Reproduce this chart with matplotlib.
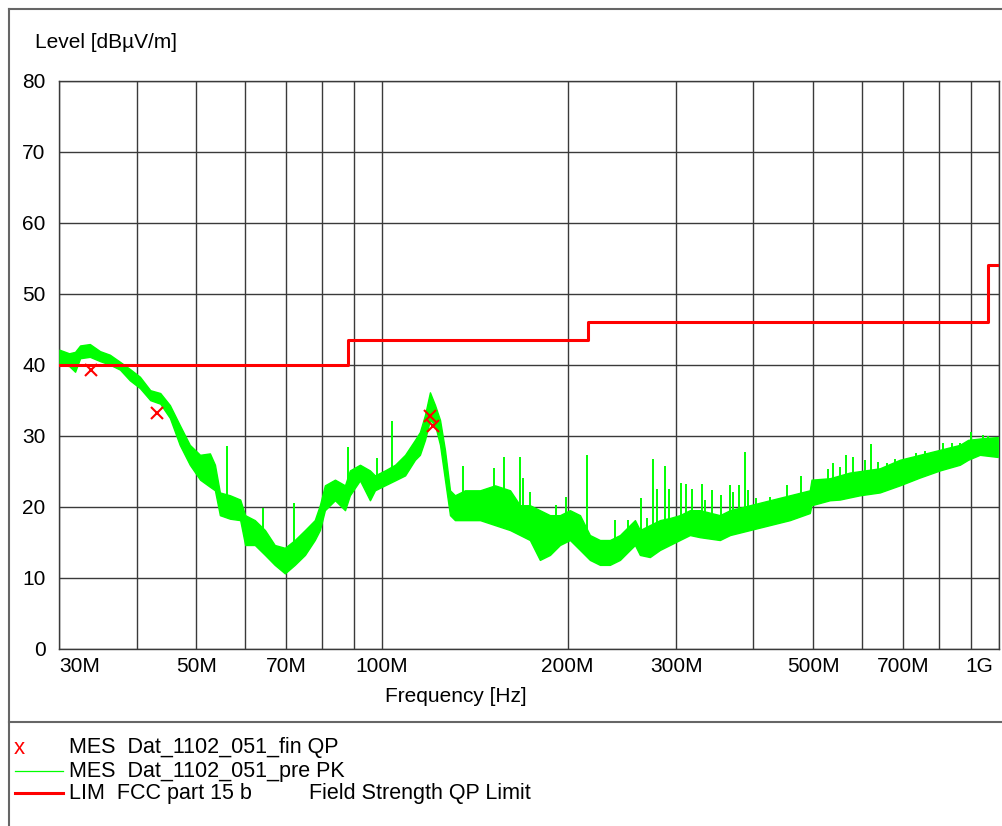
import numpy as np
import matplotlib
matplotlib.use("Agg")
import matplotlib.pyplot as plt
from matplotlib.lines import Line2D
from matplotlib.transforms import ScaledTranslation

plt.rcParams['font.family'] = ['Liberation Sans', 'DejaVu Sans']

# limit line (FCC part 15 b, QP), MHz / dBuV/m
lim_freq = [30.0, 88.0, 88.0, 216.0, 216.0, 960.0, 960.0, 1000.0]
lim_level = [40.0, 40.0, 43.5, 43.5, 46.0, 46.0, 54.0, 54.0]

# final QP measurements
qp_freq = [33.75, 43.1, 119.7, 121.2]
qp_level = [39.2, 33.2, 32.7, 31.3]

# pre-scan peak trace, read as lower / upper edge of the noise band
pk_freq = [30.0, 31.1, 31.8, 32.4, 33.6, 34.9, 36.2, 37.6, 39.0, 40.5, 42.1, 43.7,
           45.3, 47.0, 48.8, 50.7, 52.6, 53.6, 54.6, 56.7, 58.9, 60.0, 62.2, 64.6,
           67.0, 69.6, 72.2, 75.0, 77.8, 79.3, 80.8, 83.9, 87.1, 88.7, 92.1, 95.6,
           97.4, 101.1, 105.0, 109.0, 113.1, 115.2, 117.4, 119.6, 121.9, 124.2, 126.5,
           128.9, 131.3, 136.3, 144.2, 152.5, 161.3, 167.4, 173.7, 180.3, 187.2, 194.3,
           201.7, 209.4, 217.3, 225.6, 234.1, 243.1, 252.3, 257.1, 261.9, 271.8, 282.2,
           292.9, 304.0, 315.6, 327.6, 353.0, 366.6, 394.9, 425.4, 458.4, 493.8, 497.0,
           532.2, 552.5, 573.3, 595.3, 641.4, 691.1, 744.7, 802.4, 864.6, 891.6, 931.6,
           996.0]
pk_lo = [40.0, 39.8, 39.0, 40.9, 41.1, 40.5, 40.0, 39.3, 37.8, 36.7, 35.0, 34.5,
         32.5, 28.7, 25.9, 23.8, 22.8, 22.3, 18.8, 18.3, 18.1, 14.6, 14.6, 13.2,
         11.8, 10.6, 11.8, 13.2, 15.3, 16.7, 19.5, 20.9, 19.5, 21.6, 23.7, 20.9,
         22.3, 23.0, 23.7, 24.4, 26.6, 27.3, 29.4, 32.2, 31.5, 28.7, 23.8,
         18.8, 18.1, 18.1, 18.1, 17.4, 16.7, 16.0, 15.3, 12.5, 13.2, 14.6,
         15.3, 13.9, 12.5, 11.8, 11.8, 12.5, 13.9, 14.6, 13.2, 12.9, 13.9,
         14.6, 15.3, 16.0, 15.7, 15.3, 16.0, 16.7, 17.4, 18.1, 19.1, 20.2,
         20.9, 21.0, 21.3, 21.6, 22.0, 23.0, 24.1, 25.1, 25.9, 26.6, 27.3,
         27.0]
pk_hi = [42.1, 41.6, 41.8, 42.7, 42.9, 41.9, 41.4, 40.4, 39.4, 38.3, 36.4, 36.0,
         34.3, 31.5, 28.7, 27.3, 27.5, 25.9, 22.0, 21.6, 21.0, 18.8, 18.1, 16.7,
         14.6, 14.2, 15.3, 16.7, 18.1, 20.2, 23.0, 23.8, 23.0, 25.1, 25.9, 25.1,
         24.4, 25.1, 25.9, 27.3, 29.4, 30.5, 32.9, 36.1, 34.3, 32.2, 28.0,
         22.3, 21.6, 22.3, 22.3, 23.0, 22.3, 20.2, 20.2, 19.5, 18.8, 18.8,
         19.5, 18.8, 16.0, 15.3, 15.3, 16.0, 17.4, 18.1, 16.7, 17.4, 18.1,
         18.4, 18.8, 19.5, 19.5, 18.8, 19.5, 20.2, 20.9, 21.6, 22.3, 23.8,
         24.0, 24.4, 24.8, 25.0, 25.4, 26.6, 27.3, 28.0, 28.7, 29.4, 29.6,
         29.8]

# single spikes sticking out of the band
spike_freq = [56.0, 64.1, 72.1, 88.0, 98.0, 103.8, 135.3, 151.9, 157.4, 167.7, 169.5,
              174.0, 191.5, 198.7, 215.0, 238.6, 250.2, 262.5, 268.6, 274.7, 278.8,
              287.1, 292.0, 305.6, 310.8, 318.0, 330.0, 333.9, 342.3, 354.4, 366.6,
              370.8, 379.2, 387.8, 391.8, 404.1, 425.4, 453.0, 477.1, 528.5, 538.5,
              552.5, 565.3, 579.6, 606.9, 620.2, 636.9, 657.9, 678.7, 734.2, 759.3,
              788.1, 810.9, 838.8, 864.6, 901.6, 942.9, 960.7]
spike_base = [21.0, 16.0, 14.0, 22.0, 23.0, 24.0, 20.0, 20.0, 20.0, 18.0, 18.0,
              18.0, 16.0, 17.0, 14.0, 13.0, 15.0, 15.0, 15.0, 15.0, 16.0,
              16.0, 16.0, 17.0, 17.0, 17.0, 17.0, 17.0, 17.0, 17.0, 17.5,
              17.5, 17.5, 18.0, 18.0, 18.0, 18.5, 19.0, 19.5, 21.5, 21.5,
              22.0, 22.5, 22.5, 23.0, 23.0, 23.0, 23.5, 24.0, 25.0, 25.0,
              25.5, 26.0, 26.5, 26.5, 27.0, 27.5, 27.5]
spike_top = [28.5, 19.8, 20.5, 28.4, 26.8, 32.1, 25.7, 25.4, 27.0, 27.0, 24.0,
             22.0, 20.2, 21.4, 27.3, 18.1, 18.1, 21.2, 18.4, 26.7, 22.5,
             25.7, 22.5, 23.3, 23.2, 22.5, 23.2, 20.9, 22.3, 21.6, 23.0,
             22.1, 23.0, 27.7, 22.3, 21.2, 21.3, 23.0, 24.3, 25.3, 26.1,
             25.6, 27.3, 27.0, 26.6, 28.8, 26.3, 26.1, 26.7, 27.6, 27.8,
             27.7, 29.0, 29.0, 29.0, 30.5, 30.1, 29.9]

grid_freq = [30, 40, 50, 60, 70, 80, 90, 100, 200, 300, 400, 500, 600, 700, 800, 900, 1000]
grid_labels = ['30M', '', '50M', '', '70M', '', '', '100M', '200M', '300M', '',
               '500M', '', '700M', '', '', '1G']

green = '#00ff00'
red = '#ff0000'
gridc = '#3a3a3a'

fig = plt.figure(figsize=(10.03, 8.26), dpi=100)
ax = fig.add_axes([0.0593, 0.2147, 0.9365, 0.6877])

ax.fill_between(pk_freq, pk_lo, pk_hi, color=green, lw=1.0, zorder=3)
ax.vlines(spike_freq, spike_base, spike_top, color=green, lw=1.4, zorder=3)
ax.plot(lim_freq, lim_level, color=red, lw=2.2, zorder=4)
ax.plot(qp_freq, qp_level, ls='none', marker='x', ms=9, mew=1.5, color=red, zorder=5)

ax.set_xscale('log')
ax.set_xlim(30, 1000)
ax.set_ylim(0, 80)
ax.set_xticks(grid_freq)
ax.set_xticklabels(grid_labels)
ax.xaxis.set_minor_locator(matplotlib.ticker.NullLocator())
ax.set_yticks(np.arange(0, 81, 10))
ax.grid(True, color=gridc, lw=1.0)
ax.tick_params(length=0, labelsize=15, colors='black')
ax.tick_params(axis='x', pad=6)
ax.tick_params(axis='y', pad=10)
for sp in ax.spines.values():
    sp.set_color(gridc)
    sp.set_linewidth(1.0)

tl = ax.get_xticklabels()
tl[0].set_horizontalalignment('left')
tl[-1].set_horizontalalignment('right')
tl[-1].set_transform(tl[-1].get_transform() + ScaledTranslation(-6 / 100, 0, fig.dpi_scale_trans))

fig.text(35 / 1003, 1 - 42 / 826, 'Level [dBµV/m]', fontsize=15, va='center', ha='left')
fig.text(456 / 1003, 1 - 697 / 826, 'Frequency [Hz]', fontsize=15, va='center', ha='center')

# outer frame and legend separator
fig.add_artist(Line2D([9 / 1003, 9 / 1003], [0, 1 - 9 / 826], color='#666666', lw=1.5))
fig.add_artist(Line2D([9 / 1003, 1], [1 - 9 / 826, 1 - 9 / 826], color='#666666', lw=1.5))
fig.add_artist(Line2D([9 / 1003, 1], [1 - 722 / 826, 1 - 722 / 826], color='#666666', lw=1.5))

# legend block
ly = [748, 771, 793]
fig.text(14 / 1003, 1 - ly[0] / 826, 'x', color=red, fontsize=16, va='center')
fig.add_artist(Line2D([15 / 1003, 63 / 1003], [1 - ly[1] / 826] * 2, color=green, lw=0.9))
fig.add_artist(Line2D([15 / 1003, 63 / 1003], [1 - ly[2] / 826] * 2, color=red, lw=2.2))
fig.text(69 / 1003, 1 - ly[0] / 826, 'MES  Dat_1102_051_fin QP', fontsize=15.5, va='center')
fig.text(69 / 1003, 1 - ly[1] / 826, 'MES  Dat_1102_051_pre PK', fontsize=15.5, va='center')
fig.text(69 / 1003, 1 - ly[2] / 826, 'LIM  FCC part 15 b', fontsize=15.5, va='center')
fig.text(309 / 1003, 1 - ly[2] / 826, 'Field Strength QP Limit', fontsize=15.5, va='center')

fig.savefig('out.png', dpi=100)
